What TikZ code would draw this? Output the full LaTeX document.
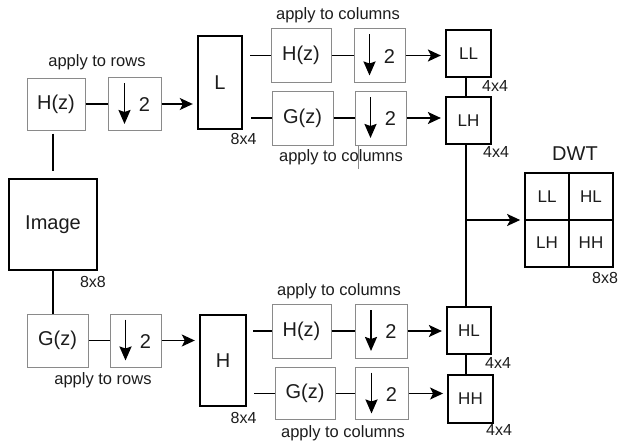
\documentclass[tikz,border=0pt]{standalone}
\usepackage{fontspec}
\setmainfont{Liberation Sans}
\usetikzlibrary{arrows.meta,calc}
\definecolor{boxgray}{HTML}{8A8A8A}
\definecolor{ink}{HTML}{1C1C1C}
\newcommand\fbig{\fontsize{20}{22}\selectfont}
\newcommand\fmid{\fontsize{17}{19}\selectfont}
\newcommand\fsmall{\fontsize{16}{18}\selectfont}
\newcommand\flab{\fontsize{16.5}{18}\selectfont}
\newcommand\downtwo[1]{%
  \draw[line width=1.9pt,-{Stealth[length=14pt,width=12pt,inset=2pt]}]
    ([xshift=-10pt,yshift=21pt]#1.center) -- ([xshift=-10pt,yshift=-20pt]#1.center);
  \node[font=\fbig,text=ink,inner sep=0pt] (#1n) at ([xshift=10pt,yshift=-1pt]#1.center) {2};}
\begin{document}
\begin{tikzpicture}[x=1pt,y=-1pt,
  filt/.style={draw=boxgray,line width=1pt,inner sep=0pt,font=\fbig,text=ink},
  dsbox/.style={draw=boxgray,line width=1pt,inner sep=0pt},
  databox/.style={draw=black,line width=2.4pt,inner sep=0pt,font=\fbig,text=ink},
  smallbox/.style={draw=black,line width=2.2pt,inner sep=0pt,font=\fmid,text=ink,minimum width=45pt,minimum height=47pt},
  conn/.style={line width=1.4pt},
  arr/.style={conn,-{Stealth[length=13pt,width=12pt,inset=3pt]},shorten >=4pt},
  lab/.style={font=\flab,text=ink,inner sep=0pt},
  size/.style={font=\fsmall,text=ink,inner sep=0pt}]
\useasboundingbox (0,0) rectangle (618,444);

% ---- rows stage ----
\node[filt,minimum width=58pt,minimum height=52pt] (hz1) at (56,104) {H(z)};
\node[dsbox,minimum width=53pt,minimum height=53pt] (ds1) at (134.5,104) {};
\downtwo{ds1}
\node[databox,minimum width=44pt,minimum height=93pt] (L) at (220,82.5) {L};

\node[databox,minimum width=88pt,minimum height=91pt] (Image) at (53,224.5) {Image};

\node[filt,minimum width=61pt,minimum height=53pt] (gz1) at (57.5,340.5) {G(z)};
\node[dsbox,minimum width=51pt,minimum height=53pt] (ds2) at (135.5,340.5) {};
\downtwo{ds2}
\node[databox,minimum width=46pt,minimum height=91pt] (H) at (223,360.5) {H};

% ---- columns stage (upper) ----
\node[filt,minimum width=60pt,minimum height=53pt] (hzc1) at (301,55.5) {H(z)};
\node[dsbox,minimum width=51pt,minimum height=53pt] (dsc1) at (379.5,55.5) {};
\downtwo{dsc1}
\node[smallbox] (LL) at (468.5,53.5) {LL};

\node[filt,minimum width=61pt,minimum height=54pt] (gzc1) at (302.5,118) {G(z)};
\node[dsbox,minimum width=51pt,minimum height=54pt] (dsc2) at (380.5,118) {};
\downtwo{dsc2}
\node[smallbox] (LH) at (468.5,120.5) {LH};

% ---- columns stage (lower) ----
\node[filt,minimum width=59pt,minimum height=54pt] (hzc2) at (301.5,331) {H(z)};
\node[dsbox,minimum width=52pt,minimum height=54pt] (dsc3) at (381,331) {};
\downtwo{dsc3}
\node[smallbox,minimum width=44pt] (HL) at (469,330.5) {HL};

\node[filt,minimum width=60pt,minimum height=52pt] (gzc2) at (305,393.5) {G(z)};
\node[dsbox,minimum width=53pt,minimum height=52pt] (dsc4) at (381.5,393.5) {};
\downtwo{dsc4}
\node[smallbox,line width=1.9pt,minimum height=48pt] (HH) at (470.5,399) {HH};

% ---- DWT result ----
\node[draw=black,line width=1.7pt,minimum width=88pt,minimum height=94pt,inner sep=0pt] (dwt) at (569,220) {};
\draw[line width=1.5pt] (dwt.north) -- (dwt.south);
\draw[line width=1.5pt] (dwt.west) -- (dwt.east);
\node[font=\fmid,text=ink,inner sep=0pt] (qLL) at (547,197) {LL};
\node[font=\fmid,text=ink,inner sep=0pt] (qHL) at (591,197) {HL};
\node[font=\fmid,text=ink,inner sep=0pt] (qLH) at (547,243) {LH};
\node[font=\fmid,text=ink,inner sep=0pt] (qHH) at (591,243) {HH};
\node[font=\fbig,text=ink,inner sep=0pt] (dwtt) at (575,154) {DWT};

% ---- connectors ----
\draw[conn] (hz1.east) -- (hz1.east -| ds1.west);
\draw[arr] (ds1.east) -- (ds1.east -| L.west);
\draw[conn,shorten <=3pt,shorten >=7pt] (Image.north |- hz1.south) -- (Image.north);
\draw[conn] (Image.south) -- (Image.south |- gz1.north);
\draw[conn] (gz1.east) -- (gz1.east -| ds2.west);
\draw[arr] (ds2.east) -- (ds2.east -| H.west);

\draw[conn,shorten <=7pt] (L.east |- hzc1.west) -- (hzc1.west);
\draw[conn,shorten <=8pt] (L.east |- gzc1.west) -- (gzc1.west);
\draw[conn] (hzc1.east) -- (hzc1.east -| dsc1.west);
\draw[arr] (dsc1.east) -- (dsc1.east -| LL.west);
\draw[conn] (gzc1.east) -- (gzc1.east -| dsc2.west);
\draw[arr] (dsc2.east) -- (dsc2.east -| LH.west);

\draw[conn,shorten <=6pt] (H.east |- hzc2.west) -- (hzc2.west);
\draw[conn,shorten <=7pt] (H.east |- gzc2.west) -- (gzc2.west);
\draw[conn] (hzc2.east) -- (hzc2.east -| dsc3.west);
\draw[arr] (dsc3.east) -- (dsc3.east -| HL.west);
\draw[conn] (gzc2.east) -- (gzc2.east -| dsc4.west);
\draw[arr] (dsc4.east) -- (dsc4.east -| HH.west);

\coordinate (cx) at ([xshift=-2.5pt]LL.south);
\draw[conn] (cx) -- (cx |- LH.north);
\draw[conn] (cx |- LH.south) -- (cx |- HL.north);
\draw[conn] (cx |- HL.south) -- (cx |- HH.north);
\draw[arr] (cx |- dwt.west) -- (dwt.west);

\draw[boxgray,line width=0.9pt] ([xshift=4pt]dsc2.south west) -- ++(0,23);

% ---- labels ----
\node[lab] (t1) at (97,62.5) {apply to rows};
\node[lab] (t6) at (103,380) {apply to rows};
\node[lab] (t2) at (338,15.5) {apply to columns};
\node[lab] (t3) at (341,157) {apply to columns};
\node[lab] (t4) at (339,291) {apply to columns};
\node[lab] (t5) at (343,433) {apply to columns};

\node[size] (s1) at (243.5,139) {8x4};
\node[size] (s2) at (243.5,418) {8x4};
\node[size] (s3) at (93,282) {8x8};
\node[size] (s4) at (495,85.5) {4x4};
\node[size] (s5) at (496,152) {4x4};
\node[size] (s6) at (498,363) {4x4};
\node[size] (s7) at (499,430) {4x4};
\node[size,anchor=west] (s8) at (592,278) {8x8};
\end{tikzpicture}
\end{document}
